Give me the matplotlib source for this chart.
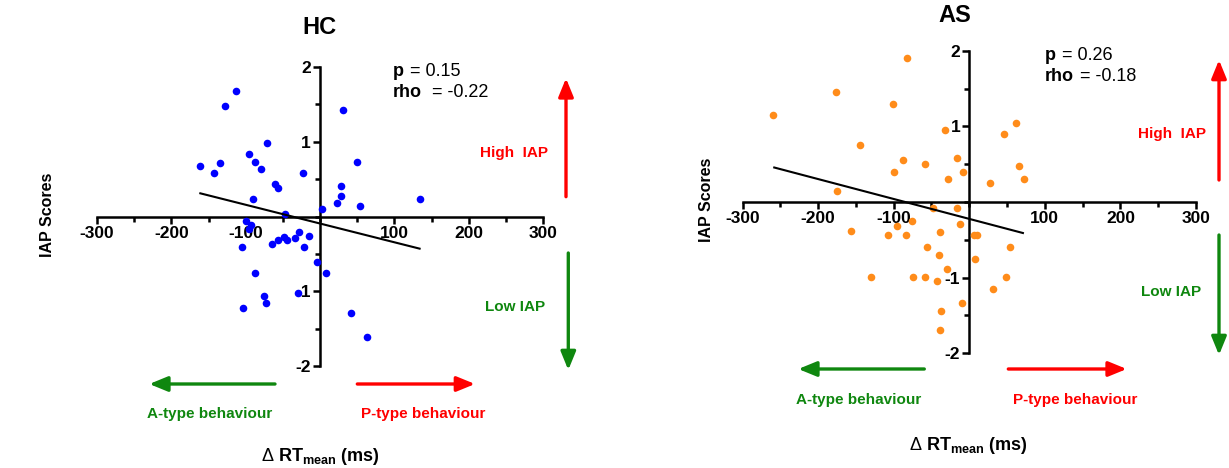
import matplotlib
matplotlib.use("Agg")
import matplotlib.pyplot as plt
from matplotlib.ticker import MultipleLocator, FixedLocator
from matplotlib.patches import FancyArrowPatch

plt.rcParams['font.family'] = ['Liberation Sans', 'DejaVu Sans']
plt.rcParams['mathtext.fontset'] = 'custom'
plt.rcParams['mathtext.rm'] = 'Liberation Sans'
plt.rcParams['mathtext.bf'] = 'Liberation Sans:bold'
plt.rcParams['mathtext.it'] = 'Liberation Sans:italic'

# ---------------- data ----------------
hc_x = [-161, -143, -134, -128, -113, -96, -87, -79, -71, -60, -57, -90, -47, -23, 2.5,
        -100, -93, -95.5, -105, -65, -56.5, -48, -44, -34, -28, -22, -15, -4.5, 8,
        -88, -76, -73, -30, -103, 31, 50, 28, 28, 23, 54, 135, 42, 63]
hc_y = [0.67, 0.58, 0.72, 1.48, 1.68, 0.83, 0.735, 0.63, 0.985, 0.44, 0.38, 0.24, 0.04, 0.58, 0.10,
        -0.06, -0.12, -0.17, -0.41, -0.37, -0.32, -0.28, -0.32, -0.29, -0.21, -0.41, -0.26, -0.61, -0.75,
        -0.75, -1.06, -1.16, -1.02, -1.23, 1.43, 0.735, 0.405, 0.28, 0.18, 0.14, 0.24, -1.29, -1.61]
hc_fit_x = [-161, 134]
hc_fit_y = [0.31, -0.43]

as_x = [-259, -176, -82, -101, -144, -88, -99, -58, -32, -16, -28, -8, -175, -48, -16,
        62, 46, 66, 72, 27, -156, -95, -76, -107, -84, -12, -39, -56, -40, -30,
        -130, -74, -58, -43, -9, -37, -38.6, 6, 10.5, 7, 54, 48, 32]
as_y = [1.15, 1.45, 1.90, 1.30, 0.75, 0.55, 0.40, 0.50, 0.95, 0.58, 0.30, 0.40, 0.15, -0.08, -0.08,
        1.05, 0.90, 0.475, 0.30, 0.25, -0.385, -0.32, -0.25, -0.44, -0.44, -0.29, -0.39, -0.59, -0.70, -0.89,
        -0.99, -0.99, -0.99, -1.04, -1.34, -1.44, -1.69, -0.44, -0.44, -0.75, -0.60, -0.99, -1.15]
as_fit_x = [-258, 71]
as_fit_y = [0.456, -0.41]

x_ticks = [-300, -200, -100, 100, 200, 300]
y_ticks = [-2, -1, 1, 2]

RED = '#FF0000'
GREEN = '#0F870F'

W, H = 1229, 468
fig = plt.figure(figsize=(W / 100, H / 100), dpi=100)


def fx(x):
    return x / W


def fy(y):
    return 1 - y / H


def make_axes(rect, xs, ys, color, fx_, fy_):
    ax = fig.add_axes(rect)
    ax.set_xlim(-300, 300)
    ax.set_ylim(-2, 2)
    for s in ['top', 'right']:
        ax.spines[s].set_visible(False)
    for s in ['left', 'bottom']:
        ax.spines[s].set_position(('data', 0))
        ax.spines[s].set_linewidth(1.8)
    ax.xaxis.set_major_locator(FixedLocator(x_ticks))
    ax.yaxis.set_major_locator(FixedLocator(y_ticks))
    ax.xaxis.set_minor_locator(MultipleLocator(50))
    ax.yaxis.set_minor_locator(MultipleLocator(0.5))
    ax.set_xticklabels([str(t) for t in x_ticks], fontweight='bold', fontsize=12.5)
    ax.set_yticklabels([str(t) for t in y_ticks], fontweight='bold', fontsize=12.5)
    ax.tick_params(axis='both', which='major', length=5, width=1.8, pad=1.5)
    ax.tick_params(axis='both', which='minor', length=3.5, width=1.8)
    ax.scatter(xs, ys, s=30, color=color, zorder=3, linewidths=0)
    ax.plot(fx_, fy_, color='black', lw=1.5, zorder=4)
    ax.patch.set_alpha(0)
    return ax


ax1 = make_axes([fx(97), fy(366), (543 - 97) / W, (366 - 67) / H],
                hc_x, hc_y, '#0000FF', hc_fit_x, hc_fit_y)
ax2 = make_axes([fx(742.5), fy(353.3), (1196 - 742.5) / W, (353.3 - 50.7) / H],
                as_x, as_y, '#FF8C1A', as_fit_x, as_fit_y)


def ftext(x, y, s, **kw):
    fig.text(fx(x), fy(y), s, **kw)


def farrow(x0, y0, x1, y1, color):
    fig.add_artist(FancyArrowPatch(
        (fx(x0), fy(y0)), (fx(x1), fy(y1)), transform=fig.transFigure,
        arrowstyle='-|>,head_length=11,head_width=4.5', color=color, lw=2.4,
        mutation_scale=1, shrinkA=0, shrinkB=0))


# titles
ftext(319, 28, 'HC', ha='center', va='center', fontsize=17, fontweight='bold')
ftext(955, 15, 'AS', ha='center', va='center', fontsize=17, fontweight='bold')

# stats
for (px, py1, py2, eq1, eq2, pval, rho) in [(392.7, 71.7, 92.3, 410, 431.7, '0.15', '-0.22'),
                                             (1045, 56, 76.7, 1061.7, 1080, '0.26', '-0.18')]:
    ftext(px, py1, 'p', ha='left', va='center', fontsize=13, fontweight='bold')
    ftext(eq1, py1, '= ' + pval, ha='left', va='center', fontsize=13)
    ftext(px, py2, 'rho', ha='left', va='center', fontsize=13, fontweight='bold')
    ftext(eq2, py2, '= ' + rho, ha='left', va='center', fontsize=13)

# y labels
ftext(47, 215, 'IAP Scores', rotation=90, ha='center', va='center', fontsize=11.5, fontweight='bold')
ftext(707, 200, 'IAP Scores', rotation=90, ha='center', va='center', fontsize=11.5, fontweight='bold')

# x labels
xl = r'$\Delta$ RT$_{\mathbf{mean}}$ (ms)'
ftext(320, 456.7, xl, ha='center', va='center', fontsize=13, fontweight='bold')
ftext(968, 445, xl, ha='center', va='center', fontsize=13, fontweight='bold')

# High/Low IAP
ftext(514, 153.3, 'High  IAP', ha='center', va='center', fontsize=11, fontweight='bold', color=RED)
ftext(515, 306.7, 'Low IAP', ha='center', va='center', fontsize=11, fontweight='bold', color=GREEN)
ftext(1172, 134, 'High  IAP', ha='center', va='center', fontsize=11, fontweight='bold', color=RED)
ftext(1171, 291.7, 'Low IAP', ha='center', va='center', fontsize=11, fontweight='bold', color=GREEN)

# behaviour texts
ftext(210, 414.3, 'A-type behaviour', ha='center', va='center', fontsize=11, fontweight='bold', color=GREEN)
ftext(423, 414.3, 'P-type behaviour', ha='center', va='center', fontsize=11, fontweight='bold', color=RED)
ftext(859, 400, 'A-type behaviour', ha='center', va='center', fontsize=11, fontweight='bold', color=GREEN)
ftext(1075, 400, 'P-type behaviour', ha='center', va='center', fontsize=11, fontweight='bold', color=RED)

# arrows
farrow(275, 384, 149.3, 384, GREEN)
farrow(357.3, 384, 475, 384, RED)
farrow(566, 196.7, 566, 78.3, RED)
farrow(568.3, 253, 568.3, 370, GREEN)
farrow(924.3, 369, 798.3, 369, GREEN)
farrow(1008.3, 369, 1126.7, 369, RED)
farrow(1219, 180, 1219, 60, RED)
farrow(1219, 235, 1219, 355, GREEN)

fig.savefig('out.png', dpi=100)
